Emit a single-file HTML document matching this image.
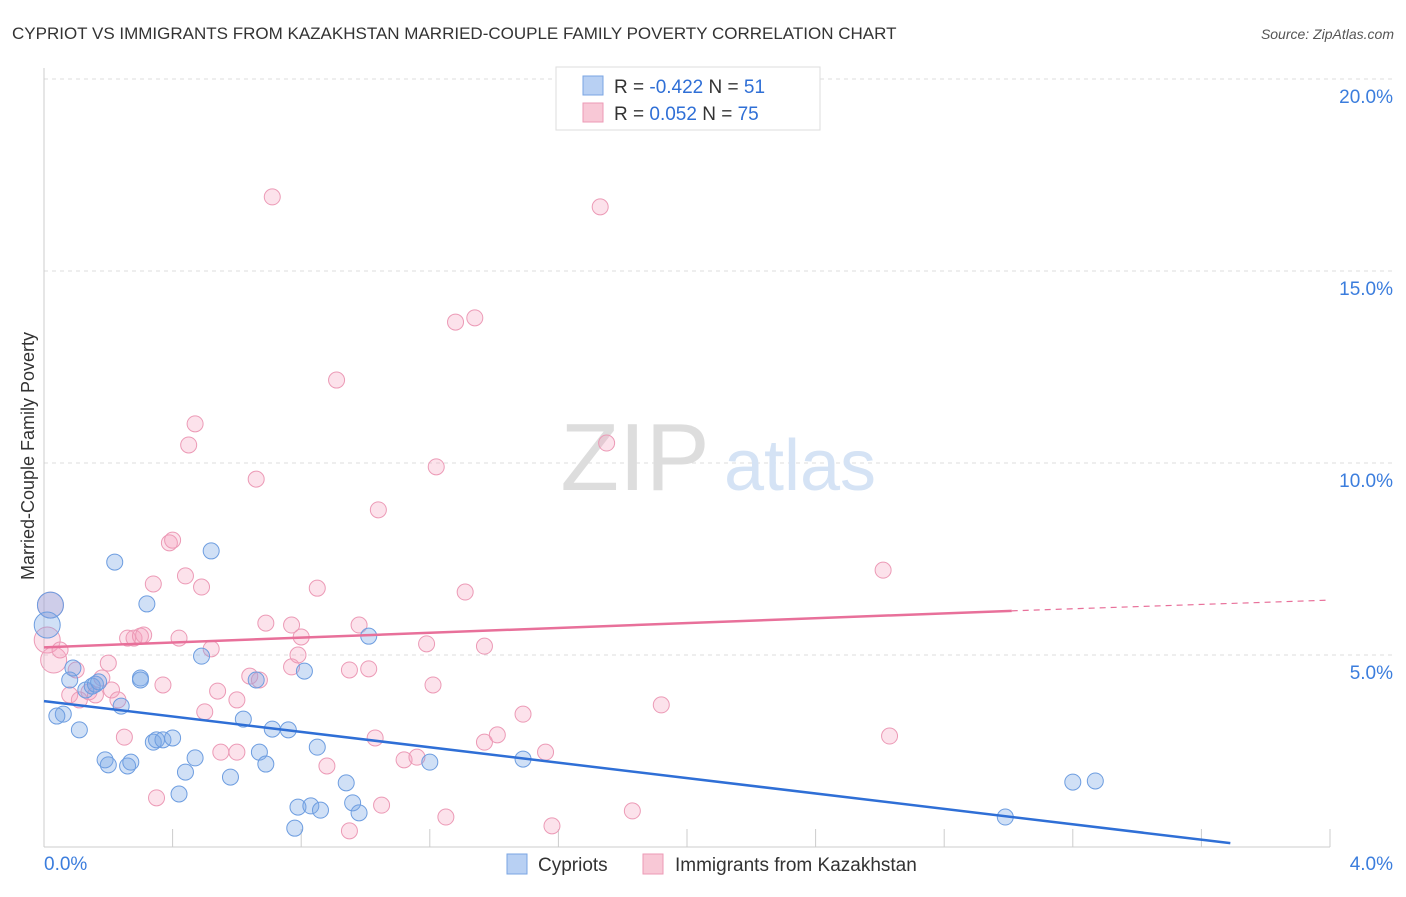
<!DOCTYPE html>
<html><head><meta charset="utf-8"><style>
body{margin:0;background:#fff;font-family:"Liberation Sans",sans-serif;}
svg text{font-family:"Liberation Sans",sans-serif;}
</style></head><body>
<svg id="chart" width="1406" height="892" xmlns="http://www.w3.org/2000/svg">
<text x="12" y="39" font-size="17" fill="#333">CYPRIOT VS IMMIGRANTS FROM KAZAKHSTAN MARRIED-COUPLE FAMILY POVERTY CORRELATION CHART</text>
<text x="1394" y="39" font-size="14" fill="#555" font-style="italic" text-anchor="end">Source: ZipAtlas.com</text>
<g id="grid"></g>
<g>
<text x="635" y="490" font-size="96" fill="#ddd" font-family="Liberation Serif,serif" text-anchor="middle">ZIP</text>
<text x="800" y="490" font-size="72" fill="#d5e3f5" text-anchor="middle">atlas</text>
</g>
<text transform="translate(34,456) rotate(-90)" font-size="18" fill="#333" text-anchor="middle">Married-Couple Family Poverty</text>
<g id="marks"></g>
<g>
<rect x="556" y="67" width="264" height="63" fill="#fff" stroke="#ddd"/>
<rect x="583" y="76" width="20" height="19" fill="#b8d0f3" stroke="#7aa5e3"/>
<rect x="583" y="103" width="20" height="19" fill="#f8c8d6" stroke="#ec9ab6"/>
<text x="614" y="93" font-size="19" fill="#333">R = <tspan fill="#2f6fd6">-0.422</tspan>   N = <tspan fill="#2f6fd6">51</tspan></text>
<text x="614" y="120" font-size="19" fill="#333">R =  <tspan fill="#2f6fd6">0.052</tspan>   N = <tspan fill="#2f6fd6">75</tspan></text>
</g>
<g>
<rect x="507" y="854" width="20" height="20" fill="#b8d0f3" stroke="#7aa5e3"/>
<text x="538" y="871" font-size="19" fill="#333">Cypriots</text>
<rect x="643" y="854" width="20" height="20" fill="#f8c8d6" stroke="#ec9ab6"/>
<text x="675" y="871" font-size="19" fill="#333">Immigrants from Kazakhstan</text>
</g>
</svg>
<script>
const blueX=[0.02,0.01,0.06,0.04,0.08,0.09,0.11,0.13,0.15,0.16,0.17,0.19,0.20,0.22,0.24,0.26,0.27,0.30,0.30,0.32,0.34,0.35,0.37,0.40,0.42,0.44,0.47,0.49,0.52,0.58,0.62,0.66,0.67,0.69,0.71,0.76,0.78,0.79,0.81,0.83,0.85,0.86,0.94,0.96,0.98,1.01,1.20,1.49,2.99,3.20,3.27];
const blueY=[6.30,5.78,3.46,3.41,4.35,4.66,3.05,4.09,4.19,4.24,4.30,2.27,2.14,7.42,3.67,2.11,2.21,4.40,4.35,6.33,2.73,2.79,2.79,2.84,1.38,1.95,2.32,4.97,7.71,1.82,3.33,4.35,2.47,2.16,3.07,3.05,0.49,1.04,4.58,1.07,2.60,0.96,1.67,1.15,0.89,5.49,2.21,2.29,0.78,1.69,1.72];
const pinkX=[0.01,0.02,0.03,0.05,0.08,0.10,0.11,0.14,0.16,0.18,0.20,0.21,0.23,0.25,0.26,0.28,0.30,0.31,0.34,0.35,0.37,0.39,0.40,0.42,0.44,0.45,0.47,0.49,0.50,0.52,0.54,0.55,0.60,0.60,0.64,0.66,0.67,0.69,0.71,0.77,0.77,0.79,0.80,0.85,0.88,0.91,0.95,0.95,0.98,1.01,1.03,1.04,1.05,1.12,1.16,1.19,1.21,1.22,1.25,1.28,1.31,1.34,1.37,1.37,1.41,1.49,1.56,1.58,1.73,1.75,1.83,1.92,2.61,2.63];
const pinkY=[5.39,6.30,4.87,5.13,3.96,4.61,3.83,4.04,3.96,4.40,4.79,4.09,3.83,2.86,5.44,5.44,5.49,5.52,6.85,1.28,4.22,7.92,7.99,5.44,7.06,10.47,11.02,6.77,3.52,5.16,4.06,2.47,3.83,2.47,4.45,9.58,4.35,5.83,16.93,5.78,4.69,5.00,5.47,6.74,2.11,12.16,4.61,0.42,5.78,4.64,2.84,8.78,1.09,2.27,2.34,5.29,4.22,9.90,0.78,13.67,6.64,13.78,5.23,2.73,2.92,3.46,2.47,0.55,16.67,10.52,0.94,3.70,7.21,2.89];
const blueBig=[0,1];
const pinkBig=[0,1,2];
const blueTrend=[[0,3.8],[3.69,0.1]];
const pinkTrend=[[0,5.2],[3.01,6.15]];
const pinkTrendExt=[[3.01,6.15],[4.0,6.43]];
const yTicks=[5,10,15,20];
const yTickLabels=["5.0%","10.0%","15.0%","20.0%"];
const xTicks=[0.4,0.8,1.2,1.6,2.0,2.4,2.8,3.2,3.6,4.0];
const xLabels=["0.0%","4.0%"];
const X0=44,X1=1330,Y0=847,YP=38.4;
const sx=v=>X0+(X1-X0)*v/4;
const sy=v=>Y0-YP*v;
const NS="http://www.w3.org/2000/svg";
function mk(tag,attrs,parent){const e=document.createElementNS(NS,tag);for(const k in attrs)e.setAttribute(k,attrs[k]);parent.appendChild(e);return e;}
const grid=document.getElementById('grid');
yTicks.forEach((t,i)=>{
 const l=mk('line',{x1:X0,x2:1394,y1:sy(t),y2:sy(t),stroke:'#ddd','stroke-dasharray':'4,4'},grid);
 
 
 const tx=mk('text',{x:1393,y:sy(t)+24,'font-size':19,fill:'#3b7ddd','text-anchor':'end'},grid);
 tx.textContent=yTickLabels[i];
 
 
});
const ax=mk('line',{x1:X0,x2:X0,y1:68,y2:Y0,stroke:'#ccc'},grid);


const bx=mk('line',{x1:X0,x2:X1,y1:Y0,y2:Y0,stroke:'#ccc'},grid);


xTicks.forEach(t=>{
 const l=mk('line',{x1:sx(t),x2:sx(t),y1:829,y2:Y0,stroke:'#ccc'},grid);
 
 
});
const xl0=mk('text',{x:44,y:870,'font-size':19,fill:'#3b7ddd'},grid);xl0.textContent=xLabels[0];


const xl1=mk('text',{x:1393,y:870,'font-size':19,fill:'#3b7ddd','text-anchor':'end'},grid);xl1.textContent=xLabels[1];


const marks=document.getElementById('marks');
pinkX.forEach((x,i)=>{
 const c=mk('circle',{cx:sx(x),cy:sy(pinkY[i]),r:pinkBig.includes(i)?13:8,fill:'rgba(244,160,190,0.3)',stroke:'#ec9ab6','stroke-width':1},marks);
 
 
});
blueX.forEach((x,i)=>{
 const c=mk('circle',{cx:sx(x),cy:sy(blueY[i]),r:blueBig.includes(i)?13:8,fill:'rgba(120,165,230,0.35)',stroke:'#6d9de0','stroke-width':1},marks);
 
 
});
const bl=mk('line',{x1:sx(blueTrend[0][0]),y1:sy(blueTrend[0][1]),x2:sx(blueTrend[1][0]),y2:sy(blueTrend[1][1]),stroke:'#2f6fd6','stroke-width':2.5},marks);


const pl=mk('line',{x1:sx(pinkTrend[0][0]),y1:sy(pinkTrend[0][1]),x2:sx(pinkTrend[1][0]),y2:sy(pinkTrend[1][1]),stroke:'#e8709a','stroke-width':2.5},marks);


const pd=mk('line',{x1:sx(pinkTrendExt[0][0]),y1:sy(pinkTrendExt[0][1]),x2:sx(pinkTrendExt[1][0]),y2:sy(pinkTrendExt[1][1]),stroke:'#e8709a','stroke-width':1.2,'stroke-dasharray':'6,5'},marks);


</script>
</body></html>
